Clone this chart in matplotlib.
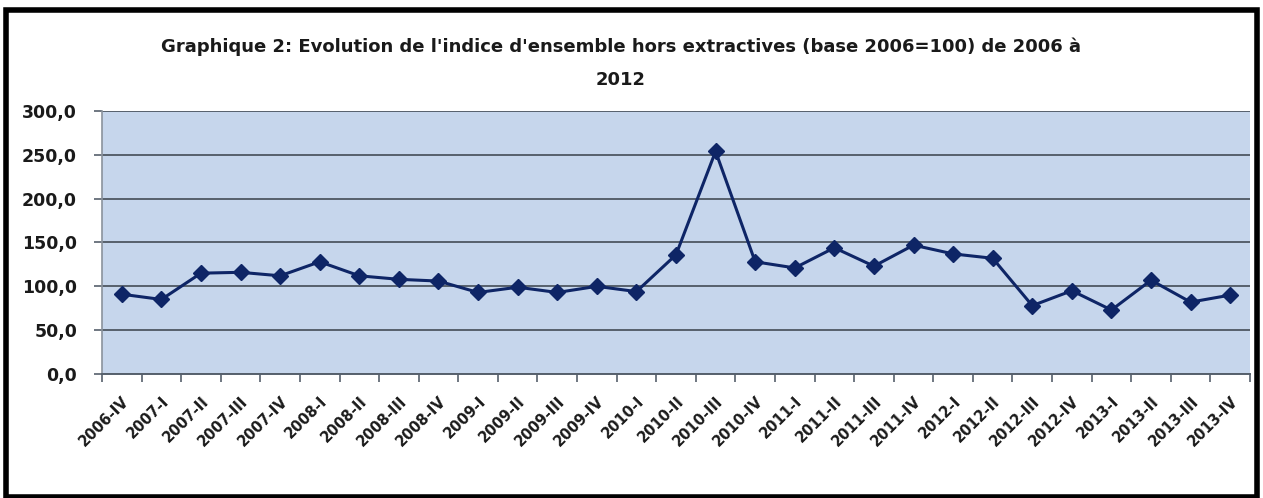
"""Graphique 2: indice d'ensemble hors extractives, trimestriel 2006-IV a 2013-IV."""
import matplotlib.pyplot as plt
from matplotlib.patches import Rectangle
import numpy as np

PLOT_BG = "#c6d6ec"
GRID = "#56606c"
LINE = "#0e2566"
INK = "#1a1a1a"

quarters = [
    "2006-IV",
    "2007-I", "2007-II", "2007-III", "2007-IV",
    "2008-I", "2008-II", "2008-III", "2008-IV",
    "2009-I", "2009-II", "2009-III", "2009-IV",
    "2010-I", "2010-II", "2010-III", "2010-IV",
    "2011-I", "2011-II", "2011-III", "2011-IV",
    "2012-I", "2012-II", "2012-III", "2012-IV",
    "2013-I", "2013-II", "2013-III", "2013-IV",
]
indice = [
    91,
    85, 115, 116, 112,
    128, 112, 108, 106,
    93, 99, 93, 100,
    94, 136, 254, 128,
    121, 144, 123, 147,
    137, 132, 78, 95,
    73, 107, 82, 90,
]
y_ticks = [0, 50, 100, 150, 200, 250, 300]

title = ("Graphique 2: Evolution de l'indice d'ensemble hors extractives "
         "(base 2006=100) de 2006 à\n2012")

plt.rcParams["font.family"] = ["DejaVu Sans"]

fig = plt.figure(figsize=(12.63, 4.98), dpi=100, facecolor="white")
ax = fig.add_axes([102 / 1263, 1 - 374 / 498, (1250 - 102) / 1263, (374 - 111) / 498])
ax.set_facecolor(PLOT_BG)

x = np.arange(len(quarters))
ax.plot(x, indice, color=LINE, linewidth=2.2, marker="D", markersize=8,
        markerfacecolor=LINE, markeredgecolor=LINE, zorder=3, clip_on=False)

ax.set_xlim(-0.5, len(quarters) - 0.5)
ax.set_ylim(0, 300)
ax.set_yticks(y_ticks)
ax.set_yticklabels([f"{v:.1f}".replace(".", ",") for v in y_ticks],
                   fontsize=12.5, fontweight="bold", color=INK)
ax.yaxis.grid(True, color=GRID, linewidth=1.4, zorder=1)
ax.set_axisbelow(True)

# category labels at centres, tick marks at boundaries
ax.set_xticks(x)
ax.set_xticklabels(quarters, rotation=45, ha="right", rotation_mode="anchor",
                   fontsize=10.5, fontweight="bold", color=INK)
ax.tick_params(axis="x", which="major", length=0, pad=14)
ax.set_xticks(np.arange(-0.5, len(quarters), 1.0), minor=True)
ax.tick_params(axis="x", which="minor", length=6, width=1.2, color=GRID)
ax.tick_params(axis="y", length=6, width=1.2, color=GRID, pad=12)

for side in ("top", "right"):
    ax.spines[side].set_visible(False)
ax.spines["left"].set_color("#8a929c")
ax.spines["left"].set_linewidth(1.2)
ax.spines["bottom"].set_color(GRID)
ax.spines["bottom"].set_linewidth(1.4)

fig.text(0.4915, 1 - 63 / 498, title, ha="center", va="center", fontsize=13,
         fontweight="bold", color=INK, linespacing=2.1)

# black frame around the whole chart
fig.patches.append(Rectangle((6 / 1263, 0.002), 1251 / 1263, 1 - 10 / 498 - 0.002,
                             transform=fig.transFigure, fill=False,
                             edgecolor="black", linewidth=4))

fig.savefig("out.png", dpi=100, facecolor="white")
